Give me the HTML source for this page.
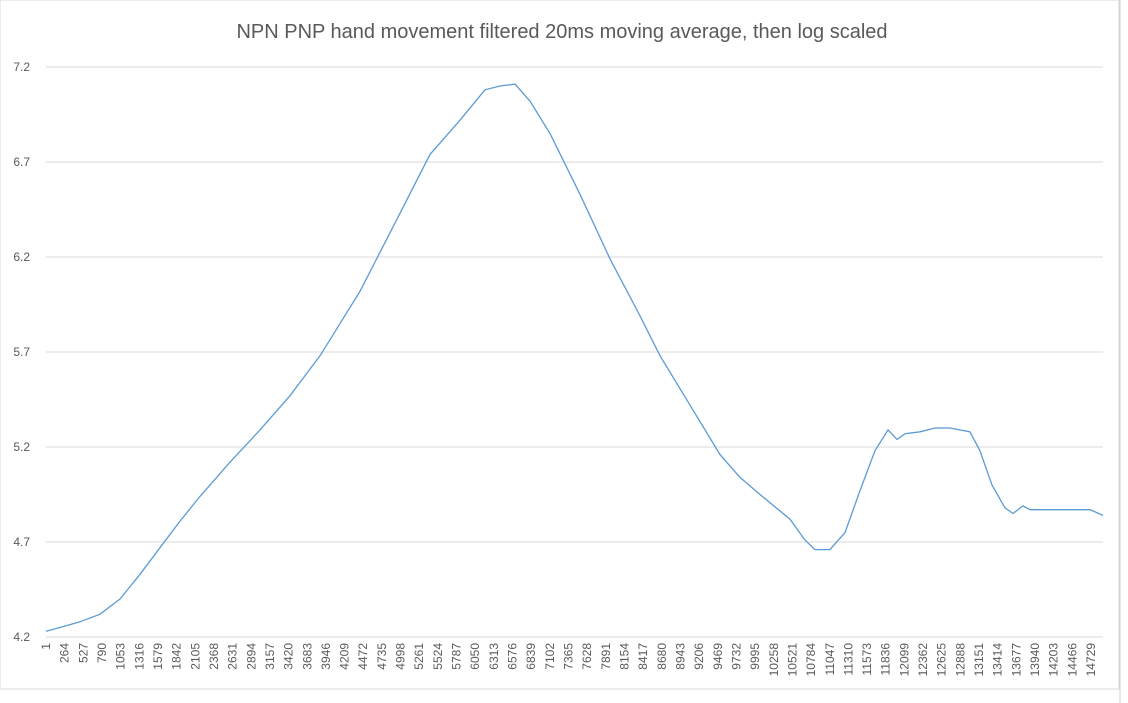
<!DOCTYPE html>
<html><head><meta charset="utf-8"><style>
body{margin:0;background:#fff;font-family:"Liberation Sans",sans-serif}
svg{display:block}
</style></head><body>
<svg id="c" width="1128" height="703">
<rect x="0" y="0" width="1119" height="689" fill="#fff" stroke="#d9d9d9"/>
<line x1="1120" y1="0" x2="1120" y2="703" stroke="#d0d0d0"/>
<text x="562" y="38" text-anchor="middle" font-size="20" fill="#595959">NPN PNP hand movement filtered 20ms moving average, then log scaled</text>
</svg>
<script>
const idx=[1,198,480,762,1044,1326,1608,1890,2171,2594,3017,3440,3863,4427,4990,5413,5836,6188,6400,6611,6823,7104,7527,7950,8373,8655,9078,9500,9782,10064,10487,10698,10839,11050,11262,11473,11684,11868,11995,12107,12319,12530,12742,13023,13164,13333,13516,13629,13770,13869,14292,14715,14898];
const vals=[4.23,4.25,4.28,4.32,4.40,4.53,4.67,4.81,4.94,5.12,5.29,5.47,5.68,6.02,6.43,6.74,6.92,7.08,7.10,7.11,7.02,6.85,6.53,6.19,5.89,5.68,5.42,5.16,5.04,4.95,4.82,4.71,4.66,4.66,4.75,4.97,5.18,5.29,5.24,5.27,5.28,5.30,5.30,5.28,5.18,5.00,4.88,4.85,4.89,4.87,4.87,4.87,4.84];
const yTicks=[4.2,4.7,5.2,5.7,6.2,6.7,7.2];
const nPts=14898;
const X0=46,X1=1103,Y0=637,Y1=67,ymin=4.2,ymax=7.2;
const xs=i=>X0+(i-1)/(nPts-1)*(X1-X0);
const ys=v=>Y0-(v-ymin)/(ymax-ymin)*(Y0-Y1);
const svg=document.getElementById('c');const NS='http://www.w3.org/2000/svg';
function mk(t,a){const e=document.createElementNS(NS,t);for(const k in a)e.setAttribute(k,a[k]);svg.appendChild(e);return e;}
yTicks.forEach(v=>{
 const l=mk('line',{x1:X0,x2:X1,y1:ys(v),y2:ys(v),stroke:'#d9d9d9'});
 
 
 const t=mk('text',{x:30,y:ys(v)+4,'text-anchor':'end','font-size':12,fill:'#595959'});
 t.textContent=v.toFixed(1);
 
 
});
for(let i=1;i<=nPts;i+=263){
 const x=xs(i);
 const t=mk('text',{x:0,y:0,'text-anchor':'end','font-size':12,fill:'#595959',transform:`translate(${x+4},${Y0+6}) rotate(-90)`});
 t.textContent=i;
 
 
}
const p=mk('polyline',{points:idx.map((d,k)=>xs(d)+','+ys(vals[k])).join(' '),fill:'none',stroke:'#5b9bd5','stroke-width':1.3});


</script>
</body></html>
